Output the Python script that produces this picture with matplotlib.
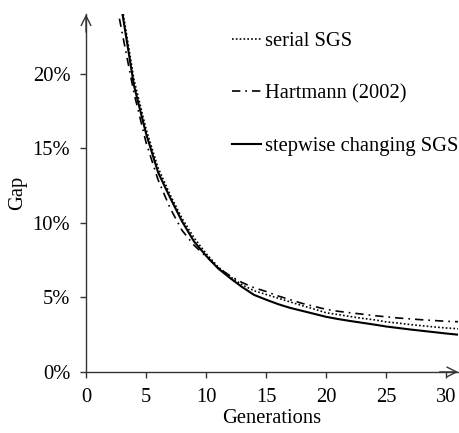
import numpy as np
import matplotlib.pyplot as plt
from matplotlib.ticker import PercentFormatter

plt.rcParams['font.family'] = ['Liberation Serif', 'DejaVu Serif']

generations = np.arange(2, 32)

# gap in percent per generation
serial_sgs = [31.5, 24.5, 19.6, 16.3, 13.7, 11.9, 10.3, 9.0, 7.95, 7.05, 6.4,
              5.85, 5.45, 5.2, 4.95, 4.7, 4.45, 4.22, 3.97, 3.85, 3.72, 3.6,
              3.5, 3.36, 3.28, 3.18, 3.1, 3.02, 2.95, 2.9]
hartmann = [27.0, 22.8, 18.7, 15.4, 12.9, 11.0, 9.5, 8.5, 7.75, 7.0, 6.45,
            6.0, 5.65, 5.4, 5.1, 4.85, 4.6, 4.4, 4.2, 4.07, 3.97, 3.88,
            3.78, 3.7, 3.62, 3.56, 3.5, 3.45, 3.4, 3.37]
stepwise_sgs = [31.0, 24.2, 19.2, 16.0, 13.4, 11.7, 10.1, 8.75, 7.8, 6.95, 6.3,
                5.7, 5.17, 4.85, 4.55, 4.3, 4.1, 3.9, 3.7, 3.55, 3.42, 3.3,
                3.18, 3.05, 2.95, 2.85, 2.76, 2.67, 2.58, 2.5]

yticks = [0, 5, 10, 15, 20]
xticks = [0, 5, 10, 15, 20, 25, 30]

fig = plt.figure(figsize=(4.6, 4.33), dpi=100)
ax = fig.add_axes([0.187, 0.141, 0.809, 0.826])

ax.plot(generations, serial_sgs, color='black', lw=1.2, linestyle=(0, (1, 1.3)),
        label='serial SGS')
ax.plot(generations, hartmann, color='black', lw=1.2,
        linestyle=(0, (5, 3, 1, 3)), label='Hartmann (2002)')
ax.plot(generations, stepwise_sgs, color='black', lw=1.5,
        label='stepwise changing SGS')

ax.set_xlim(0, 31)
ax.set_ylim(0, 24)
ax.set_xticks(xticks)
ax.set_yticks(yticks)
ax.yaxis.set_major_formatter(PercentFormatter(xmax=100, decimals=0))

axis_color = '#333333'
for side in ['top', 'right']:
    ax.spines[side].set_visible(False)
for side in ['left', 'bottom']:
    ax.spines[side].set_color(axis_color)
    ax.spines[side].set_linewidth(1.0)
ax.tick_params(direction='out', length=4.3, width=1.0, color=axis_color,
               labelsize=14.8, pad=7)

# open arrowheads at the axis ends
arrow = dict(arrowstyle='->,head_length=0.5,head_width=0.25', lw=1.0,
             color=axis_color, shrinkA=0, shrinkB=0, mutation_scale=14)
ax.annotate('', xy=(1.0, 0), xytext=(0.95, 0), xycoords='axes fraction',
            arrowprops=arrow, annotation_clip=False)
ax.annotate('', xy=(0, 1.0), xytext=(0, 0.95), xycoords='axes fraction',
            arrowprops=arrow, annotation_clip=False)

ax.set_xlabel('Generations', fontsize=14.8, labelpad=2)
ax.set_ylabel('Gap', fontsize=14.8, labelpad=4)

ax.legend(loc='upper right', bbox_to_anchor=(1.023, 0.975), frameon=False,
          fontsize=14.8, handlelength=1.4, handletextpad=0.2,
          labelspacing=1.62, borderaxespad=0)

fig.savefig('out.png', dpi=100)
